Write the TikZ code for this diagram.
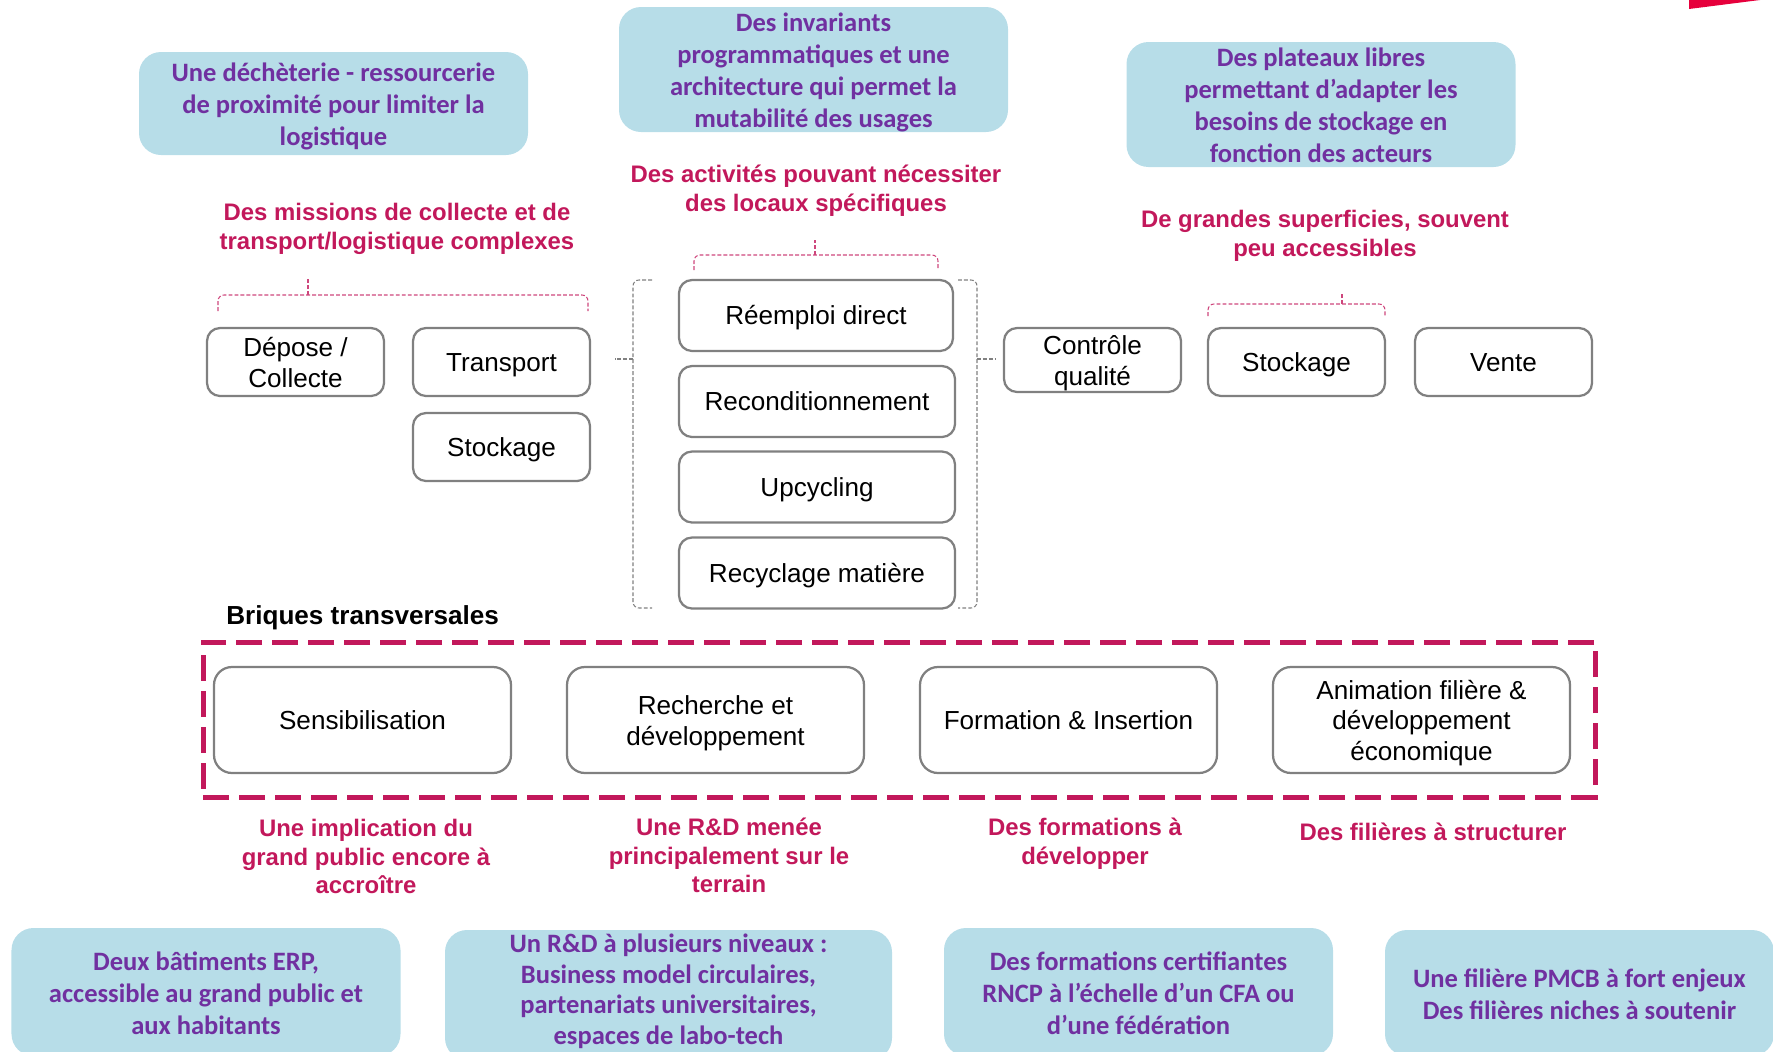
\documentclass[tikz,border=0pt]{standalone}
\usepackage{fontspec}
\newfontfamily\arialfont{Liberation Sans}
\newfontfamily\calibrifont{Carlito}
\newcommand{\capstrut}{\rule{0pt}{1em}}
\definecolor{bluebox}{HTML}{B7DDE8}
\definecolor{purpletext}{HTML}{7030A0}
\definecolor{redtext}{HTML}{C2185B}
\definecolor{greyline}{HTML}{808080}
\definecolor{cornerred}{HTML}{E6003C}
\tikzset{
  capcentred/.style={execute at begin node=\rule[-0.24em]{0pt}{1.2em}, execute at end node=\rule[-0.24em]{0pt}{1.2em}},
  brick/.style={capcentred, draw=greyline, line width=0.045cm, rounded corners=0.26cm, align=center, inner sep=0pt,
    minimum width=3.54cm, minimum height=1.36cm, font=\arialfont\fontsize{14.85}{17.4}\selectfont},
  middlebrick/.style={brick, minimum width=5.52cm, minimum height=1.42cm},
  widebrick/.style={brick, rounded corners=0.36cm, minimum width=5.94cm, minimum height=2.12cm},
  bluenote/.style={capcentred, fill=bluebox, rounded corners=0.44cm, align=center, inner xsep=0pt, inner ysep=-4pt, text=purpletext,
    minimum width=7.78cm, minimum height=2.5cm, font=\calibrifont\bfseries\fontsize{15.1}{18.2}\selectfont},
  redlabel/.style={capcentred, align=center, inner sep=0pt, text=redtext,
    font=\arialfont\bfseries\fontsize{13.6}{16.2}\selectfont},
  redbrace/.style={draw=redtext!80, line width=0.6pt, dash pattern=on 2.2pt off 1.2pt, rounded corners=0.12cm},
  greybrace/.style={draw=greyline, line width=0.6pt, dash pattern=on 2.2pt off 1.2pt, rounded corners=0.12cm}
}
\begin{document}
\begin{tikzpicture}

\useasboundingbox (0,0) rectangle (35.46,-21.04);

% Corner mark
\fill[cornerred] (33.78,0) -- (35.2,0) -- (33.78,-0.18) -- cycle;

% Top notes
\node[bluenote, minimum height=2.06cm] (noteA) at (6.67,-2.07) {\capstrut Une déchèterie - ressourcerie\\de proximité pour limiter la\\logistique};
\node[bluenote] (noteB) at (16.27,-1.39) {\capstrut Des invariants\\programmatiques et une\\architecture qui permet la\\mutabilité des usages};
\node[bluenote] (noteC) at (26.42,-2.09) {\capstrut Des plateaux libres\\permettant d’adapter les\\besoins de stockage en\\fonction des acteurs};

% Red labels
\node[redlabel] (labelA) at (7.94,-4.52) {\capstrut Des missions de collecte et de\\transport/logistique complexes};
\node[redlabel] (labelB) at (16.32,-3.76) {\capstrut Des activités pouvant nécessiter\\des locaux spécifiques};
\node[redlabel] (labelC) at (26.50,-4.66) {\capstrut De grandes superficies, souvent\\peu accessibles};

% Chain of activities
\node[brick] (depose) at (5.91,-7.24) {\capstrut Dépose /\\Collecte};
\node[brick] (transport) at (10.03,-7.24) {Transport};
\node[brick] (stockageA) at (10.03,-8.94) {Stockage};
\node[middlebrick, minimum width=5.48cm] (reemploi) at (16.32,-6.31) {Réemploi direct};
\node[middlebrick] (recond) at (16.34,-8.03) {Reconditionnement};
\node[middlebrick] (upcycling) at (16.34,-9.74) {Upcycling};
\node[middlebrick] (recyclage) at (16.34,-11.46) {Recyclage matière};
\node[brick, minimum height=1.28cm] (controle) at (21.85,-7.20) {\capstrut Contrôle\\qualité};
\node[brick] (stockageB) at (25.93,-7.24) {Stockage};
\node[brick] (vente) at (30.07,-7.24) {Vente};

% Braces above the groups
\foreach \xa/\xm/\xb/\ya/\ym/\yt in {4.36/6.16/11.76/-6.22/-5.90/-5.58,
                                     13.88/16.30/18.76/-5.40/-5.10/-4.80,
                                     24.16/26.84/27.70/-6.32/-6.08/-5.86}
{
    \draw[redbrace] (\xa,\ya) -- (\xa,\ym) -- (\xb,\ym) -- (\xb,\ya);
    \draw[redbrace] (\xm,\ym) -- (\xm,\yt);
}

% Brackets round the middle column
\foreach \xe/\xs/\xt in {13.04/12.66/12.30, 19.16/19.54/19.90}
{
    \draw[greybrace] (\xe,-5.60) -- (\xs,-5.60) -- (\xs,-12.16) -- (\xe,-12.16);
    \draw[greybrace] (\xs,-7.18) -- (\xt,-7.18);
}

% Transversal bricks
\node[capcentred, anchor=west, inner sep=0pt, font=\arialfont\bfseries\fontsize{14.85}{17}\selectfont] (briques) at (4.52,-12.30) {Briques transversales};
\node[draw=redtext, line width=0.1cm, dash pattern=on 0.52cm off 0.2cm, minimum width=27.84cm, minimum height=3.10cm] (frame) at (17.98,-14.39) {};
\node[widebrick] (sensi) at (7.25,-14.40) {Sensibilisation};
\node[widebrick] (recherche) at (14.31,-14.40) {\capstrut Recherche et\\développement};
\node[widebrick] (formation) at (21.37,-14.40) {Formation \& Insertion};
\node[widebrick] (animation) at (28.43,-14.40) {\capstrut Animation filière \&\\développement\\économique};

\node[redlabel] (labelD) at (7.32,-17.12) {\capstrut Une implication du\\grand public encore à\\accroître};
\node[redlabel] (labelE) at (14.58,-17.10) {\capstrut Une R\&D menée\\principalement sur le\\terrain};
\node[redlabel] (labelF) at (21.70,-16.82) {\capstrut Des formations à\\développer};
\node[redlabel] (labelG) at (28.66,-16.64) {Des filières à structurer};

% Bottom notes
\node[bluenote, minimum height=2.56cm] (noteD) at (4.12,-19.84) {\capstrut Deux bâtiments ERP,\\accessible au grand public et\\aux habitants};
\node[bluenote, minimum width=8.94cm, minimum height=2.6cm, font=\calibrifont\bfseries\fontsize{15.1}{17.5}\selectfont] (noteE) at (13.37,-19.90) {\capstrut Un R\&D à plusieurs niveaux :\\Business model circulaires,\\partenariats universitaires,\\espaces de labo-tech\rule[-11pt]{0pt}{12pt}};
\node[bluenote, minimum height=2.56cm] (noteF) at (22.77,-19.84) {\capstrut Des formations certifiantes\\RNCP à l’échelle d’un CFA ou\\d’une fédération};
\node[bluenote, minimum height=2.52cm] (noteG) at (31.59,-19.86) {\capstrut Une filière PMCB à fort enjeux\\Des filières niches à soutenir};

\end{tikzpicture}
\end{document}
